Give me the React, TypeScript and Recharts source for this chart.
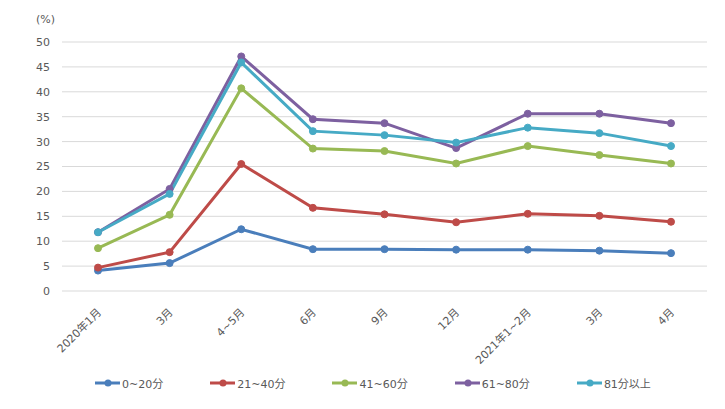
import React from 'react';
import { LineChart, Line, XAxis, YAxis, CartesianGrid, Legend } from 'recharts';

const months = ['2020年1月', '3月', '4~5月', '6月', '9月', '12月', '2021年1~2月', '3月', '4月'];
const min0to20 = [4.1, 5.6, 12.4, 8.4, 8.4, 8.3, 8.3, 8.1, 7.6];
const min21to40 = [4.7, 7.8, 25.5, 16.7, 15.4, 13.8, 15.5, 15.1, 13.9];
const min41to60 = [8.6, 15.3, 40.7, 28.6, 28.1, 25.6, 29.1, 27.3, 25.6];
const min61to80 = [11.8, 20.5, 47.1, 34.5, 33.7, 28.7, 35.6, 35.6, 33.7];
const min81plus = [11.8, 19.5, 45.9, 32.1, 31.3, 29.8, 32.8, 31.7, 29.1];
const yTicks = [0, 5, 10, 15, 20, 25, 30, 35, 40, 45, 50];

const series = [
  { key: 'a', name: '0~20分', values: min0to20, color: '#4a7ebb' },
  { key: 'b', name: '21~40分', values: min21to40, color: '#be4b48' },
  { key: 'c', name: '41~60分', values: min41to60, color: '#98b954' },
  { key: 'd', name: '61~80分', values: min61to80, color: '#7d60a0' },
  { key: 'e', name: '81分以上', values: min81plus, color: '#46aac5' },
];

const data = months.map((m, i) => {
  const row: Record<string, string | number> = { month: m, idx: i };
  series.forEach((s) => { row[s.key] = s.values[i]; });
  return row;
});

const FONT = '"DejaVu Sans", "Noto Sans CJK JP", sans-serif';
const TEXT = '#595959';

const MonthTick = (props: any) => {
  const { x, y, payload } = props;
  const label = months[payload.value];
  return (
    <text
      x={x + 4}
      y={y + 14}
      transform={`rotate(-45, ${x + 4}, ${y + 14})`}
      textAnchor="end"
      fontSize={11}
      fill={TEXT}
      fontFamily={FONT}
    >
      {label}
    </text>
  );
};

const LegendBox = () => (
  <div style={{ display: 'flex', paddingLeft: 95, gap: 47, height: 20, alignItems: 'center', fontFamily: FONT, fontSize: 11, color: TEXT }}>
    {series.map((s) => (
      <div key={s.key} style={{ display: 'flex', alignItems: 'center' }}>
        <svg width={27} height={10}>
          <line x1={0} y1={5} x2={25} y2={5} stroke={s.color} strokeWidth={3} />
          <circle cx={13} cy={5} r={3.5} fill={s.color} />
        </svg>
        <span>{s.name}</span>
      </div>
    ))}
  </div>
);

export default function App() {
  return (
    <div style={{ position: 'absolute', left: 0, top: 0, background: '#fff' }}>
      <LineChart width={725} height={409} data={data} margin={{ top: 42, right: 18, bottom: 0, left: 0 }}>
        <CartesianGrid horizontal vertical={false} stroke="#d9d9d9" strokeWidth={1} />
        <XAxis
          dataKey="idx"
          tick={<MonthTick />}
          axisLine={false}
          tickLine={false}
          interval={0}
          height={82}
          padding={{ left: 36, right: 36 }}
        />
        <YAxis
          domain={[0, 50]}
          ticks={yTicks}
          width={62}
          axisLine={false}
          tickLine={false}
          tickMargin={6}
          tick={{ fontSize: 11, fill: TEXT, fontFamily: FONT }}
          label={{
            content: (p: any) => (
              <text x={p.viewBox.x + 55} y={p.viewBox.y - 19} textAnchor="end" fontSize={11} fill={TEXT} fontFamily={FONT}>
                (%)
              </text>
            ),
          }}
        />
        <Legend verticalAlign="bottom" height={36} wrapperStyle={{ left: 0, width: 725 }} content={() => <LegendBox />} />
        {series.map((s) => (
          <Line
            key={s.key}
            dataKey={s.key}
            name={s.name}
            stroke={s.color}
            strokeWidth={3}
            dot={{ r: 3.5, fill: s.color, stroke: s.color, strokeWidth: 1 }}
            isAnimationActive={false}
          />
        ))}
      </LineChart>
    </div>
  );
}
